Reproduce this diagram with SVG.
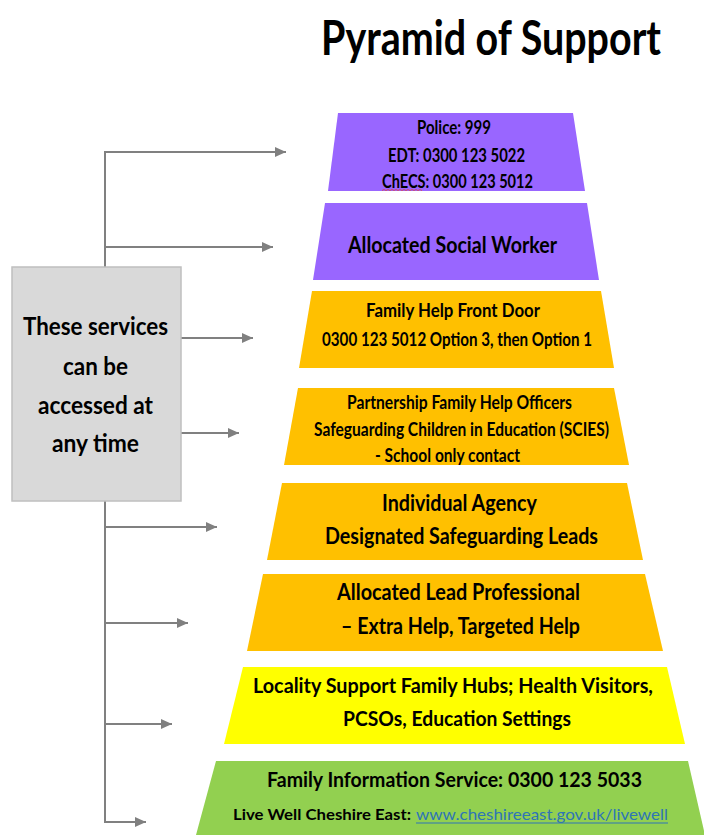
<svg xmlns="http://www.w3.org/2000/svg" width="704" height="835" viewBox="0 0 704 835">
<style>
text{font-family:Lato,"Open Sans","Liberation Sans",sans-serif;font-weight:bold;fill:#000}
.purple{fill:#9966ff}
.gold{fill:#ffc000}
.yellow{fill:#ffff00}
.green{fill:#92d050}
.conn{stroke:#808080;stroke-width:2;fill:none}
.link{fill:#2e75b6}
</style>
<defs>
<marker id="ah" markerUnits="userSpaceOnUse" markerWidth="11" markerHeight="10" refX="11" refY="5" orient="auto">
<path d="M0,0 L11,5 L0,10 z" fill="#808080"/>
</marker>
</defs>
<rect width="704" height="835" fill="#fff"/>
<text id="title" x="321" y="55" font-size="47" textLength="340" lengthAdjust="spacingAndGlyphs">Pyramid of Support</text>

<g id="connectors">
<line class="conn" x1="105" y1="152" x2="105" y2="822"/>
<line class="conn" x1="104" y1="152" x2="286" y2="152" marker-end="url(#ah)"/>
<line class="conn" x1="105" y1="247" x2="273" y2="247" marker-end="url(#ah)"/>
<line class="conn" x1="181" y1="338" x2="253" y2="338" marker-end="url(#ah)"/>
<line class="conn" x1="181" y1="433" x2="239" y2="433" marker-end="url(#ah)"/>
<line class="conn" x1="105" y1="527" x2="217" y2="527" marker-end="url(#ah)"/>
<line class="conn" x1="105" y1="623" x2="188" y2="623" marker-end="url(#ah)"/>
<line class="conn" x1="105" y1="724" x2="172" y2="724" marker-end="url(#ah)"/>
<line class="conn" x1="104" y1="822" x2="146" y2="822" marker-end="url(#ah)"/>
</g>

<g id="access-box">
<rect x="12" y="267" width="169" height="234" fill="#d9d9d9" stroke="#bfbfbf" stroke-width="1.5"/>
<text x="23" y="335" font-size="25" textLength="145" lengthAdjust="spacingAndGlyphs">These services</text>
<text x="63" y="375" font-size="25" textLength="65" lengthAdjust="spacingAndGlyphs">can be</text>
<text x="38" y="414" font-size="25" textLength="115" lengthAdjust="spacingAndGlyphs">accessed at</text>
<text x="52" y="452" font-size="25" textLength="87" lengthAdjust="spacingAndGlyphs">any time</text>
</g>

<g id="tier1">
<polygon class="purple" points="338,113 573,113 585,191 328,191"/>
<text x="417" y="134" font-size="18.5" textLength="74" lengthAdjust="spacingAndGlyphs">Police: 999</text>
<text x="388" y="161.5" font-size="18.5" textLength="137" lengthAdjust="spacingAndGlyphs">EDT: 0300 123 5022</text>
<text x="382" y="187.5" font-size="18.5" textLength="151" lengthAdjust="spacingAndGlyphs">ChECS: 0300 123 5012</text>
<path d="M382,190.5 l2,-1 l2,1 l2,-1 l2,1 l2,-1 l2,1 l2,-1 l2,1 l2,-1 l2,1 l2,-1 l2,1 l2,-1 l2,1 l2,-1 l2,1 l2,-1 l2,1 l2,-1 l2,1" fill="none" stroke="#e04040" stroke-width="0.8"/>
</g>

<g id="tier2">
<polygon class="purple" points="325,203 587,203 599,280 313,280"/>
<text x="348" y="252.5" font-size="23" textLength="209" lengthAdjust="spacingAndGlyphs">Allocated Social Worker</text>
</g>

<g id="tier3">
<polygon class="gold" points="312,291 601,291 614,368 299,368"/>
<text x="366" y="317" font-size="18.5" textLength="174" lengthAdjust="spacingAndGlyphs">Family Help Front Door</text>
<text x="322" y="346" font-size="18.5" textLength="270" lengthAdjust="spacingAndGlyphs">0300 123 5012 Option 3, then Option 1</text>
</g>

<g id="tier4">
<polygon class="gold" points="298,388 614,388 629,465 284,465"/>
<text x="347" y="408.5" font-size="18.5" textLength="225" lengthAdjust="spacingAndGlyphs">Partnership Family Help Officers</text>
<text x="314" y="436" font-size="18.5" textLength="295" lengthAdjust="spacingAndGlyphs">Safeguarding Children in Education (SCIES)</text>
<text x="375" y="461.5" font-size="18.5" textLength="145" lengthAdjust="spacingAndGlyphs">- School only contact</text>
</g>

<g id="tier5">
<polygon class="gold" points="282,483 627,483 643,560 267,560"/>
<text x="382" y="510.5" font-size="23" textLength="155" lengthAdjust="spacingAndGlyphs">Individual Agency</text>
<text x="325" y="543.5" font-size="23" textLength="273" lengthAdjust="spacingAndGlyphs">Designated Safeguarding Leads</text>
</g>

<g id="tier6">
<polygon class="gold" points="263,574 645,574 663,651 247,651"/>
<text x="337" y="600" font-size="23" textLength="243" lengthAdjust="spacingAndGlyphs">Allocated Lead Professional</text>
<text x="341" y="634" font-size="23" textLength="239" lengthAdjust="spacingAndGlyphs">– Extra Help, Targeted Help</text>
</g>

<g id="tier7">
<polygon class="yellow" points="243,667 667,667 685,744 224,744"/>
<text x="253" y="693" font-size="21" textLength="400" lengthAdjust="spacingAndGlyphs">Locality Support Family Hubs; Health Visitors,</text>
<text x="343" y="726" font-size="21" textLength="228" lengthAdjust="spacingAndGlyphs">PCSOs, Education Settings</text>
</g>

<g id="tier8">
<polygon class="green" points="216,761 688,761 705,835 196,835"/>
<text x="267" y="787" font-size="21" textLength="375" lengthAdjust="spacingAndGlyphs">Family Information Service: 0300 123 5033</text>
<text x="233" y="820" font-size="15" textLength="178" lengthAdjust="spacingAndGlyphs">Live Well Cheshire East:</text>
<text class="link" x="416" y="820" font-size="15" font-weight="normal" textLength="252" lengthAdjust="spacingAndGlyphs" style="font-weight:normal;fill:#2e75b6">www.cheshireeast.gov.uk/livewell</text>
<line x1="416" y1="823" x2="668" y2="823" stroke="#2e75b6" stroke-width="1"/>
</g>
</svg>
